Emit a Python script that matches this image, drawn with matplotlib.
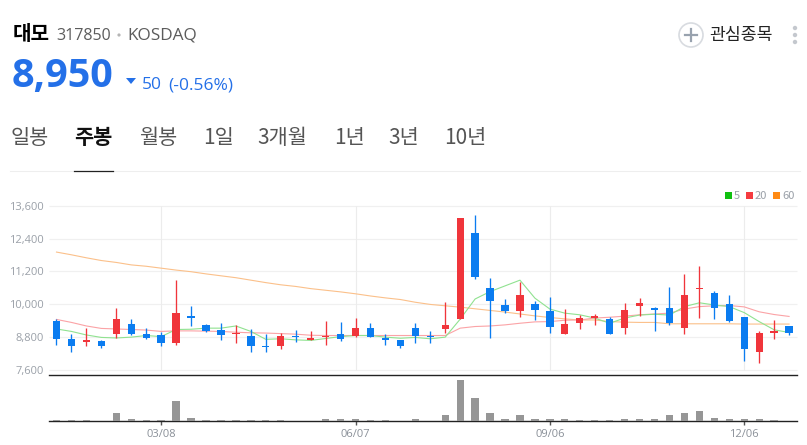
import matplotlib
matplotlib.use("Agg")
import matplotlib.pyplot as plt
from matplotlib.patches import Circle, Polygon, Rectangle

plt.rcParams['font.family'] = ['Noto Sans CJK KR', 'DejaVu Sans']

opens = [9390,8730,8630,8650,8890,9280,8910,8870,8590,9560,9240,9060,8890,8820,8470,8450,8840,8690,8810,8900,8820,9130,8760,8690,9120,8810,9090,9440,12600,10600,9970,9740,10010,9750,8910,9300,9490,9460,9140,9930,9860,9860,9140,10540,10410,9990,9530,8230,8960,9190]
closes = [8710,8450,8650,8470,9440,8890,8750,8590,9670,9500,9010,8870,8940,8480,8420,8840,8800,8760,8850,8730,9130,8810,8700,8480,8840,8780,9240,13150,11010,10130,9750,10350,9770,9180,9280,9490,9570,8890,9800,10050,9800,9310,10340,10600,9850,9390,8340,8950,9010,8950]
highs = [9460,8910,9130,8690,9860,9460,9130,8980,10900,9940,9280,9310,9240,9090,8890,8940,9060,9020,9380,9350,9500,9300,8900,8690,9300,9010,10080,13150,13280,10970,10190,10830,10110,10270,9830,9600,9640,9530,10040,10230,9900,10640,11100,11390,10490,10340,9530,9010,9420,9190]
lows = [8510,8250,8450,8380,8760,8860,8730,8470,8510,9200,8970,8690,8580,8250,8260,8370,8630,8670,8510,8650,8790,8790,8510,8400,8580,8580,8940,9440,10930,8750,9660,9530,9420,8950,8910,9090,9240,8890,8910,9570,9000,9240,8910,9500,9460,9360,7900,7830,8730,8870]
ma5 = [9090,9000,8870,8780,8760,8790,8850,8810,9070,9080,9120,9120,9200,9000,8710,8730,8690,8670,8740,8810,8850,8850,8790,8750,8780,8730,8790,9450,10190,10460,10670,10880,10220,9820,9670,9610,9490,9300,9490,9600,9630,9600,9910,10050,9970,9910,9690,9360,9060,8960]
ma20 = [9440,9330,9200,9110,9090,9070,9050,9000,9020,9020,9010,9000,8970,8950,8940,8920,8900,8860,8850,8850,8850,8850,8850,8850,8850,8850,8850,9120,9180,9200,9240,9300,9350,9360,9410,9420,9490,9520,9560,9610,9640,9670,9820,9910,9940,9950,9900,9720,9620,9550]
ma60 = [11910,11810,11700,11600,11530,11440,11390,11320,11250,11190,11110,11040,10970,10880,10790,10710,10650,10570,10510,10450,10380,10300,10230,10170,10070,9990,9940,9890,9830,9770,9710,9640,9570,9510,9460,9420,9420,9360,9340,9330,9330,9280,9280,9280,9280,9280,9270,9270,9270,9270]
volumes = [3,3,3,0,25,5,3,3,60,9,3,3,3,3,3,3,0,0,5,5,5,3,3,0,5,0,18,123,69,24,6,18,6,6,6,3,3,3,6,6,6,18,24,30,9,5,5,5,3,0]
price_ticks = [7600,8800,10000,11200,12400,13600]
date_pos = [7,20,33,46]
date_labels = ['03/08','06/07','09/06','12/06']
tabs = ['일봉','주봉','월봉','1일','3개월','1년','3년','10년']
tab_x = [11,74,139,203,257,334,388,444]

W, H = 807, 445
RED, BLUE = '#f0353b', '#0b7cf0'
fig = plt.figure(figsize=(W/100, H/100), dpi=100, facecolor='white')

def axes_px(x0, y0, x1, y1):
    return fig.add_axes([x0/W, 1-y1/H, (x1-x0)/W, (y1-y0)/H])

bg = fig.add_axes([0, 0, 1, 1])
bg.set_xlim(0, W); bg.set_ylim(H, 0); bg.axis('off')

# header
bg.text(13, 33, '대모', fontsize=14.5, fontweight='bold', color='#000000', va='center')
bg.text(56, 36, '317850', fontsize=11.5, color='#5c5c5c', va='center', family=['Open Sans'])
bg.add_patch(Circle((119, 35), 1.6, color='#b5b5b5', lw=0))
bg.text(127, 36, 'KOSDAQ', fontsize=12.4, color='#5c5c5c', va='center', family=['Open Sans'])
bg.text(12, 77, '8,950', fontsize=28.5, fontweight='bold', color='#2470e8', va='center', family=['Open Sans'])
bg.add_patch(Polygon([(126, 78), (136, 78), (131, 84)], color='#2470e8', lw=0))
bg.text(142, 85, '50', fontsize=12.5, color='#2470e8', va='center', family=['Open Sans'])
bg.text(168, 85, '(-0.56%)', fontsize=12.5, color='#2470e8', va='center', family=['Open Sans'])
bg.add_patch(Circle((691, 35), 12, fc='white', ec='#d8dbe0', lw=1.2))
bg.plot([685, 697], [35, 35], color='#98a2ae', lw=1.6)
bg.plot([691, 691], [29, 41], color='#98a2ae', lw=1.6)
bg.text(709, 35, '관심종목', fontsize=12.4, color='#222222', va='center')
for yy in (28, 35, 42):
    bg.add_patch(Circle((795, yy), 2.2, color='#c4c8ce', lw=0))

# tabs
for i, (t, x) in enumerate(zip(tabs, tab_x)):
    bg.text(x, 138, t, fontsize=15, va='center', color='#111111' if i == 1 else '#555555',
            fontweight='bold' if i == 1 else 'normal')
bg.plot([10, 800], [170.5, 170.5], color='#eeeeee', lw=0.8)
bg.plot([74, 113], [170.5, 170.5], color='#222222', lw=0.9)

# legend
for x, lab, c in [(725, '5', '#10c010'), (746, '20', '#f53b40'), (773, '60', '#ff8a14')]:
    bg.add_patch(Rectangle((x, 192), 7, 7, color=c, lw=0))
    bg.text(x+9, 196, lab, fontsize=8, color='#9aa0a8', va='center')

# price panel
x0, x1 = -0.535, 49.53
ax = axes_px(48.5, 206, 797, 374.5)
ax.set_xlim(x0, x1)
ax.set_ylim(7420, 13600)
ax.patch.set_alpha(0)
for s in ('top', 'left', 'right'):
    ax.spines[s].set_visible(False)
ax.spines['bottom'].set_color('#222222')
ax.spines['bottom'].set_linewidth(1.0)
ax.set_xticks([])
ax.set_yticks(price_ticks)
ax.set_yticklabels([f'{v:,}' for v in price_ticks], fontsize=8, color='#9aa0a8', family=['Open Sans'])
ax.tick_params(axis='y', length=0, pad=3.5)
ax.hlines(price_ticks, x0, x1, color='#f0f0f0', lw=0.9, zorder=1, clip_on=False)
ax.vlines(date_pos, 7600, 13600, color='#ececec', lw=0.8, zorder=1)

xs = list(range(len(opens)))
ax.plot(xs, ma60, color='#fbc08a', lw=0.8, zorder=2)
ax.plot(xs, ma20, color='#fba3a6', lw=0.8, zorder=2)
ax.plot(xs, ma5, color='#90e290', lw=0.8, zorder=2)

for i in xs:
    c = RED if closes[i] >= opens[i] else BLUE
    ax.vlines(i, lows[i], highs[i], color=c, lw=0.95, zorder=3)
    bot, top = min(opens[i], closes[i]), max(opens[i], closes[i])
    ax.bar(i, max(top-bot, 40), bottom=bot, width=0.49, color=c, lw=0, zorder=4)

# volume panel
vax = axes_px(48.5, 378, 797, 421)
vax.set_xlim(x0, x1)
vax.set_ylim(0, 129)
vax.patch.set_alpha(0)
for s in ('top', 'left', 'right'):
    vax.spines[s].set_visible(False)
vax.spines['bottom'].set_color('#222222')
vax.spines['bottom'].set_linewidth(1.0)
vax.set_yticks([])
vax.bar(xs, volumes, width=0.49, color='#969696', lw=0, zorder=3)
vax.set_xticks(date_pos)
vax.set_xticklabels(date_labels, fontsize=8, color='#8a9098', family=['Open Sans'])
vax.tick_params(axis='x', length=3, width=1, color='#555555', pad=2.5)

fig.savefig('out.png', dpi=100)
